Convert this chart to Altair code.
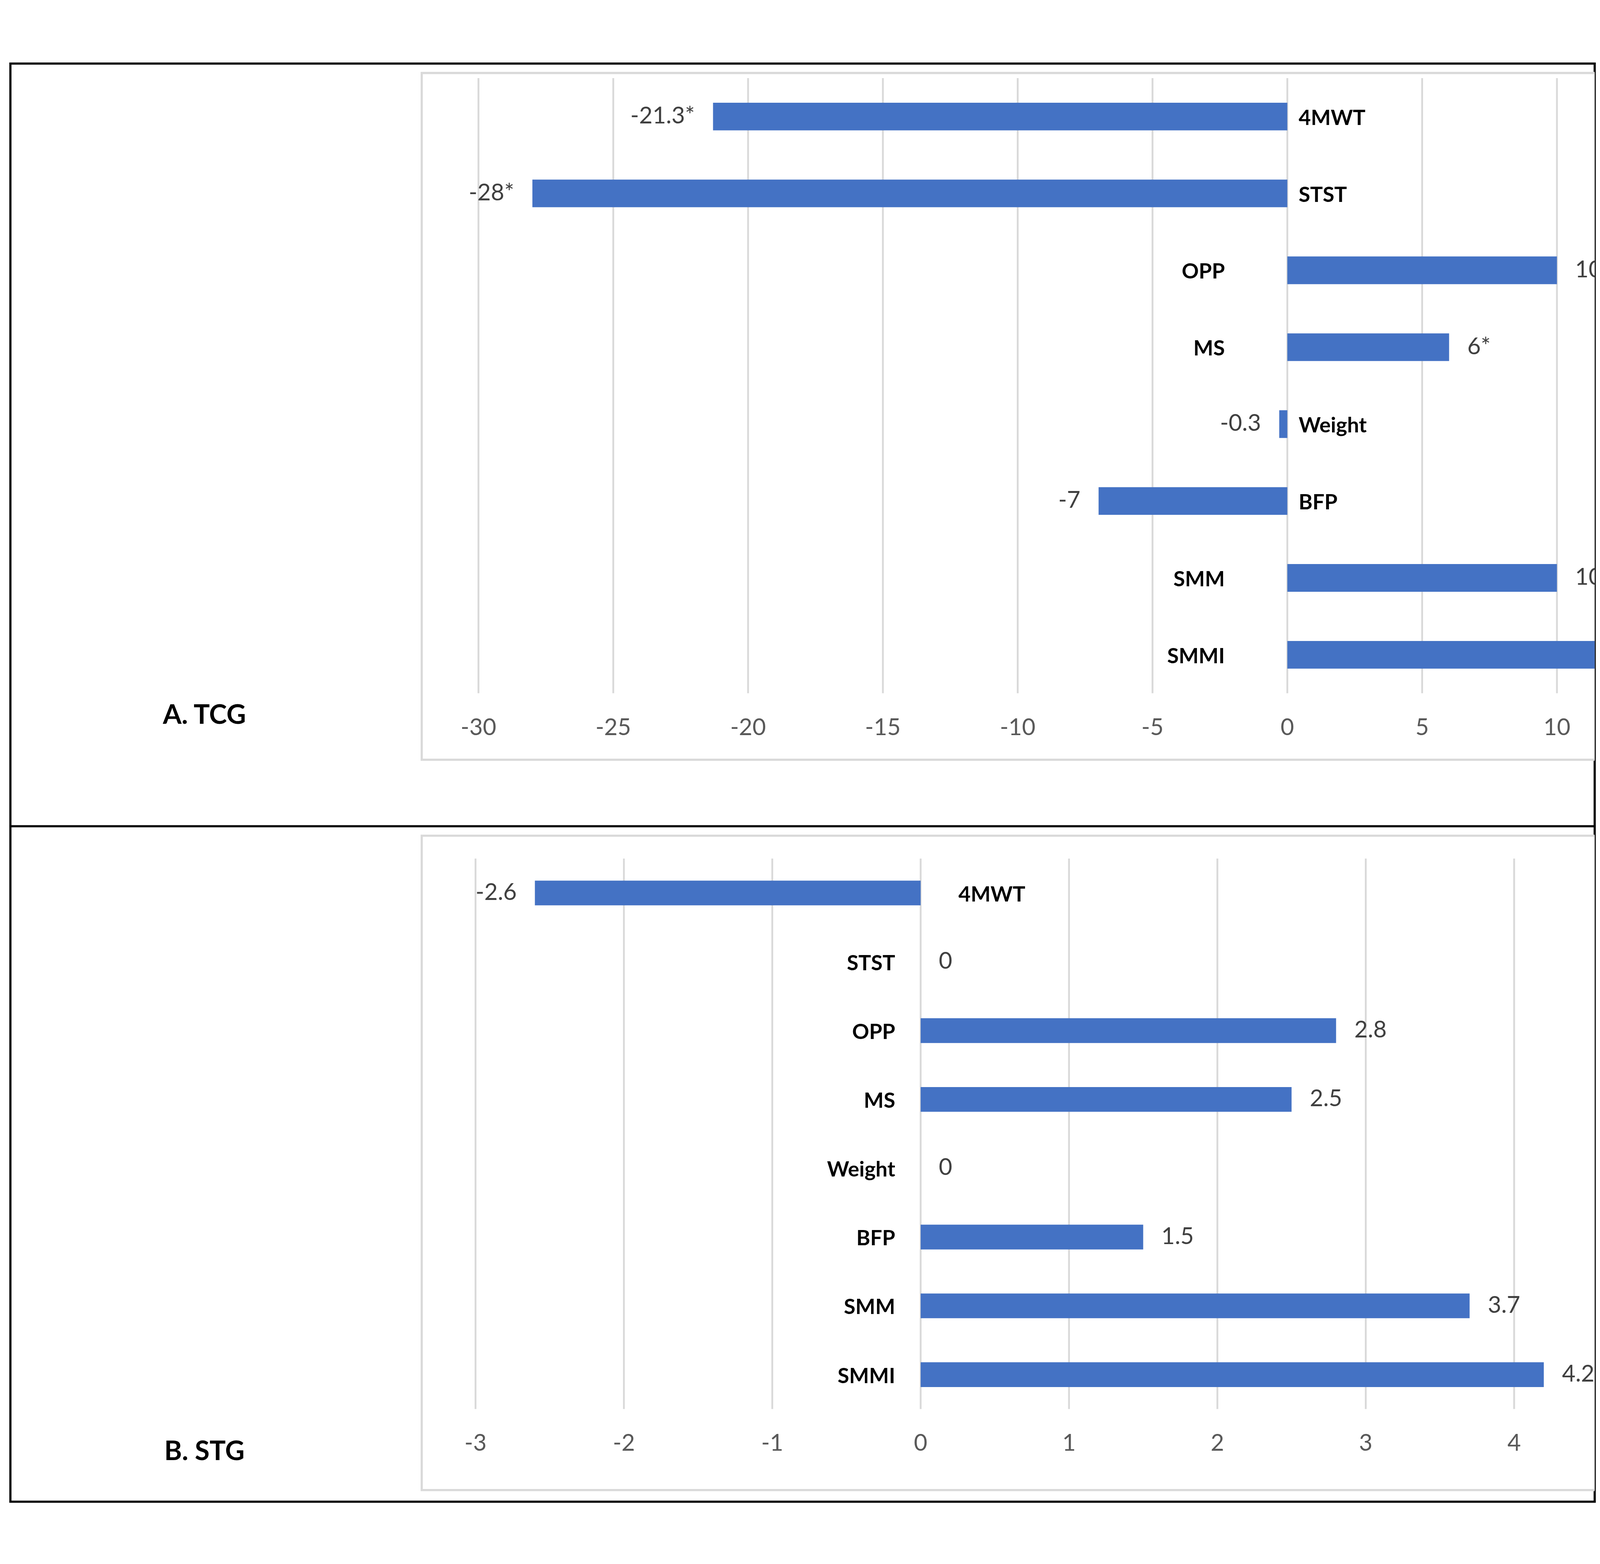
import altair as alt
import pandas as pd

# ---- data ----
categories = ["4MWT", "STST", "OPP", "MS", "Weight", "BFP", "SMM", "SMMI"]

tcg_values = [-21.3, -28, 10, 6, -0.3, -7, 10, 12]
tcg_labels = ["-21.3*", "-28*", "10", "6*", "-0.3", "-7", "10", "12"]
tcg_ticks = [-30, -25, -20, -15, -10, -5, 0, 5, 10]

stg_values = [-2.6, 0, 2.8, 2.5, 0, 1.5, 3.7, 4.2]
stg_labels = ["-2.6", "0", "2.8", "2.5", "0", "1.5", "3.7", "4.2"]
stg_ticks = [-3, -2, -1, 0, 1, 2, 3, 4]

BAR = "#4472C4"
GRID = "#D9D9D9"
FONT = "Lato"
W = 4360
H_A = 2099
H_B = 1859


def panel(values, labels, ticks, title, domain, y0, yrange, box_y,
          tick_y, cat_dx_neg, cat_dx_pos, title_y):
    df = pd.DataFrame({"cat": categories, "value": values, "label": labels,
                       "zero": [0] * len(categories)})
    tick_df = pd.DataFrame({"value": ticks, "tick": [str(t) for t in ticks]})
    base = alt.Chart(df)
    y = alt.Y("cat:N", sort=categories,
              scale=alt.Scale(range=[y0 + yrange[0], y0 + yrange[1]],
                              paddingInner=0.64, paddingOuter=0.32),
              axis=None)
    sc = alt.Scale(domain=domain, nice=False, zero=False)
    x = alt.X("value:Q", scale=sc, axis=None)
    x0 = alt.X("zero:Q", scale=sc, axis=None)
    one = alt.Data(values=[{"k": 1}])
    box = alt.Chart(one).mark_rect(fill="white", stroke=GRID, strokeWidth=6, clip=True).encode(
        x=alt.value(1132), x2=alt.value(W + 40),
        y=alt.value(y0 + box_y[0]), y2=alt.value(y0 + box_y[1]))
    grid = alt.Chart(tick_df).mark_rule(color=GRID, strokeWidth=5).encode(
        x=x, y=alt.value(y0 + yrange[0]), y2=alt.value(y0 + yrange[1]))
    tick_text = alt.Chart(tick_df).mark_text(
        align="center", baseline="middle", font=FONT, fontSize=64,
        color="#595959").encode(x=x, y=alt.value(y0 + tick_y), text="tick:N")
    bars = base.mark_bar(color=BAR, clip=True).encode(x=x, y=y)
    val_neg = base.transform_filter("datum.value < 0").mark_text(
        align="right", baseline="middle", dx=-50, font=FONT, fontSize=64,
        color="#404040", clip=True).encode(x=x, y=y, text="label:N")
    val_pos = base.transform_filter("datum.value >= 0").mark_text(
        align="left", baseline="middle", dx=50, font=FONT, fontSize=64,
        color="#404040", clip=True).encode(x=x, y=y, text="label:N")
    cat_neg = base.transform_filter("datum.value < 0").mark_text(
        align="left", baseline="middle", dx=cat_dx_neg, dy=6, font=FONT,
        fontSize=58, fontWeight="bold", color="black").encode(
        x=x0, y=y, text="cat:N")
    cat_pos = base.transform_filter("datum.value >= 0").mark_text(
        align="right", baseline="middle", dx=cat_dx_pos, dy=6, font=FONT,
        fontSize=58, fontWeight="bold", color="black").encode(
        x=x0, y=y, text="cat:N")
    ttl = alt.Chart(one).mark_text(
        align="center", baseline="middle", font=FONT, fontSize=74,
        fontWeight="bold", color="black").encode(
        x=alt.value(534), y=alt.value(y0 + title_y), text=alt.value(title))
    return alt.layer(box, grid, tick_text, bars, val_neg, val_pos, cat_neg, cat_pos, ttl)


top = panel(tcg_values, tcg_labels, tcg_ticks, "A. TCG",
            domain=[-47.36, 11.40], y0=0, yrange=[40, 1733],
            box_y=[26, 1916], tick_y=1829, cat_dx_neg=31, cat_dx_pos=-172,
            title_y=1795)
bottom = panel(stg_values, stg_labels, stg_ticks, "B. STG",
               domain=[-6.135, 4.543], y0=H_A, yrange=[89, 1604],
               box_y=[26, 1827], tick_y=1700, cat_dx_neg=104, cat_dx_pos=-70,
               title_y=1722)

divider = alt.Chart(alt.Data(values=[{"k": 1}])).mark_rule(
    color="black", strokeWidth=6).encode(
    x=alt.value(0), x2=alt.value(W), y=alt.value(H_A))

chart = alt.layer(top, bottom, divider).resolve_scale(
    x="independent", y="independent"
).properties(
    width=W, height=H_A + H_B,
    autosize=alt.AutoSizeParams(type="none"),
    padding={"left": 20, "top": 17, "right": 6, "bottom": 6},
    background="white",
).configure_view(stroke="black", strokeWidth=6, fill="white")

chart.save("out.html", embed_options={"renderer": "svg", "actions": False})
